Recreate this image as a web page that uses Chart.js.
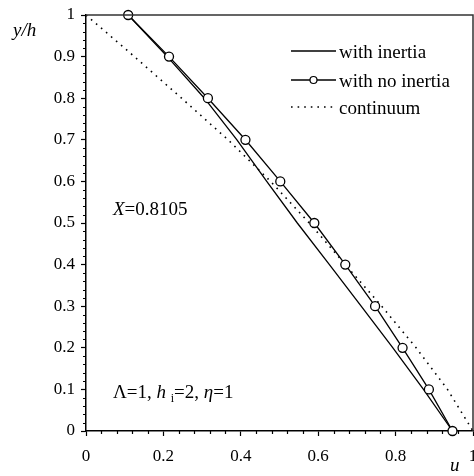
<!DOCTYPE html>
<html>
<head>
<meta charset="utf-8">
<script src="https://cdn.jsdelivr.net/npm/chart.js@4.4.1/dist/chart.umd.min.js"></script>
<style>
  html, body { margin: 0; padding: 0; background: #fff; }
  canvas { display: block; }
</style>
</head>
<body>
<canvas id="myChart" width="474" height="476"></canvas>
<script>
// values
const yLevels     = [1, 0.9, 0.8, 0.7, 0.6, 0.5, 0.4, 0.3, 0.2, 0.1, 0];
const uNoInertia  = [0.109, 0.2145, 0.315, 0.412, 0.502, 0.590, 0.670, 0.747, 0.818, 0.886, 0.947];
const uInertia    = [0.109, 0.210, 0.306, 0.390, 0.467, 0.546, 0.629, 0.711, 0.793, 0.872, 0.947];
const uContinuum  = [0, 0.125, 0.247, 0.367, 0.477, 0.577, 0.670, 0.764, 0.853, 0.934, 1.0];
const seriesNames = ['with no inertia', 'with inertia', 'continuum'];
const xMajor = 0.2, xMinor = 0.04;
const yMajor = 0.1, yMinor = 0.02;

const FONT = "'Liberation Serif', 'Times New Roman', serif";

function isMajor(v, step) {
    const r = v / step;
    return Math.abs(r - Math.round(r)) < 1e-6;
}
function fmt(v) {
    return String(Math.round(v * 10) / 10);
}
function toPoints(us) {
    return yLevels.map((y, i) => ({x: us[i], y: y}));
}

// draw text made of several runs (italic / subscript)
function drawRuns(ctx, x, y, runs) {
    runs.forEach(r => {
        const size = r.sub ? 12 : 19;
        ctx.font = (r.it ? 'italic ' : '') + size + 'px ' + FONT;
        ctx.fillText(r.t, x, y + (r.sub ? 4 : 0));
        x += ctx.measureText(r.t).width;
    });
}

const extras = {
    id: 'extras',
    afterDraw(chart) {
        const {ctx, chartArea: a, scales} = chart;
        ctx.save();
        // top and right frame
        ctx.strokeStyle = '#333';
        ctx.lineWidth = 1.5;
        ctx.beginPath();
        ctx.moveTo(a.left, a.top);
        ctx.lineTo(a.right, a.top);
        ctx.lineTo(a.right, a.bottom);
        ctx.stroke();

        // minor ticks (shorter)
        ctx.strokeStyle = '#000';
        ctx.lineWidth = 1.2;
        ctx.beginPath();
        scales.x.ticks.forEach(t => {
            if (isMajor(t.value, xMajor)) return;
            const px = Math.round(scales.x.getPixelForValue(t.value)) + 0.5;
            ctx.moveTo(px, a.bottom);
            ctx.lineTo(px, a.bottom + 3);
        });
        scales.y.ticks.forEach(t => {
            if (isMajor(t.value, yMajor)) return;
            const py = Math.round(scales.y.getPixelForValue(t.value)) + 0.5;
            ctx.moveTo(a.left - 3, py);
            ctx.lineTo(a.left, py);
        });
        ctx.stroke();

        // legend
        const rows = [1, 0, 2];
        const rowY = [51, 80, 107];
        rows.forEach((di, k) => {
            const ds = chart.data.datasets[di];
            const y = rowY[k];
            ctx.strokeStyle = ds.borderColor;
            ctx.lineWidth = ds.borderWidth;
            ctx.setLineDash(ds.borderDash || []);
            ctx.beginPath();
            ctx.moveTo(291, y);
            ctx.lineTo(336, y);
            ctx.stroke();
            ctx.setLineDash([]);
            if (ds.pointRadius > 0) {
                ctx.beginPath();
                ctx.arc(313.5, y, 3.5, 0, Math.PI * 2);
                ctx.fillStyle = '#fff';
                ctx.fill();
                ctx.lineWidth = 1.2;
                ctx.stroke();
            }
            ctx.fillStyle = '#000';
            ctx.textBaseline = 'alphabetic';
            ctx.font = '19px ' + FONT;
            ctx.fillText(seriesNames[di], 339, y + 7);
        });

        // axis titles and notes
        ctx.fillStyle = '#000';
        ctx.textBaseline = 'alphabetic';
        drawRuns(ctx, 13, 36, [{t: 'y/h', it: true}]);
        drawRuns(ctx, 450, 471, [{t: 'u', it: true}]);
        drawRuns(ctx, 113, 215, [{t: 'X', it: true}, {t: '=0.8105'}]);
        drawRuns(ctx, 113, 398, [
            {t: '\u039B=1, '}, {t: 'h', it: true}, {t: ' '}, {t: 'i', sub: true},
            {t: '=2, '}, {t: '\u03B7', it: true}, {t: '=1'}
        ]);
        ctx.restore();
    }
};

const ctx = document.getElementById('myChart').getContext('2d');
const myChart = new Chart(ctx, {
    type: 'scatter',
    data: {
        datasets: [{
            label: seriesNames[0],
            data: toPoints(uNoInertia),
            showLine: true,
            borderColor: '#000',
            borderWidth: 1.3,
            pointRadius: 4.5,
            pointBackgroundColor: '#fff',
            pointBorderColor: '#000',
            pointBorderWidth: 1.3,
            clip: false,
            order: 0
        }, {
            label: seriesNames[1],
            data: toPoints(uInertia),
            showLine: true,
            borderColor: '#000',
            borderWidth: 1.3,
            pointRadius: 0,
            clip: false,
            order: 1
        }, {
            label: seriesNames[2],
            data: toPoints(uContinuum),
            showLine: true,
            borderColor: '#000',
            borderWidth: 1.6,
            borderDash: [1.6, 5],
            pointRadius: 0,
            order: 2
        }]
    },
    options: {
        responsive: false,
        animation: false,
        layout: {autoPadding: false, padding: {top: 15, right: 1, left: 0, bottom: 0}},
        plugins: {
            legend: {display: false},
            tooltip: {enabled: false}
        },
        scales: {
            x: {
                type: 'linear',
                min: 0,
                max: 1,
                ticks: {
                    stepSize: xMinor,
                    autoSkip: false,
                    maxRotation: 0,
                    color: '#000',
                    padding: 10,
                    font: {family: FONT, size: 17},
                    callback: v => isMajor(v, xMajor) ? fmt(v) : ''
                },
                grid: {
                    drawOnChartArea: false,
                    tickLength: 5,
                    tickWidth: 1.2,
                    tickColor: c => (c.tick && isMajor(c.tick.value, xMajor)) ? '#000' : 'rgba(0,0,0,0)'
                },
                border: {color: '#000', width: 1.5},
                afterFit: s => { s.height = 45; s.paddingLeft = 0; s.paddingRight = 0; }
            },
            y: {
                type: 'linear',
                min: 0,
                max: 1,
                ticks: {
                    stepSize: yMinor,
                    autoSkip: false,
                    color: '#000',
                    padding: 6,
                    font: {family: FONT, size: 17},
                    callback: v => isMajor(v, yMajor) ? fmt(v) : ''
                },
                grid: {
                    drawOnChartArea: false,
                    tickLength: 5,
                    tickWidth: 1.2,
                    tickColor: c => (c.tick && isMajor(c.tick.value, yMajor)) ? '#000' : 'rgba(0,0,0,0)'
                },
                border: {color: '#000', width: 1.5},
                afterFit: s => { s.width = 86; s.paddingTop = 0; s.paddingBottom = 0; }
            }
        }
    },
    plugins: [extras]
});
</script>
</body>
</html>
